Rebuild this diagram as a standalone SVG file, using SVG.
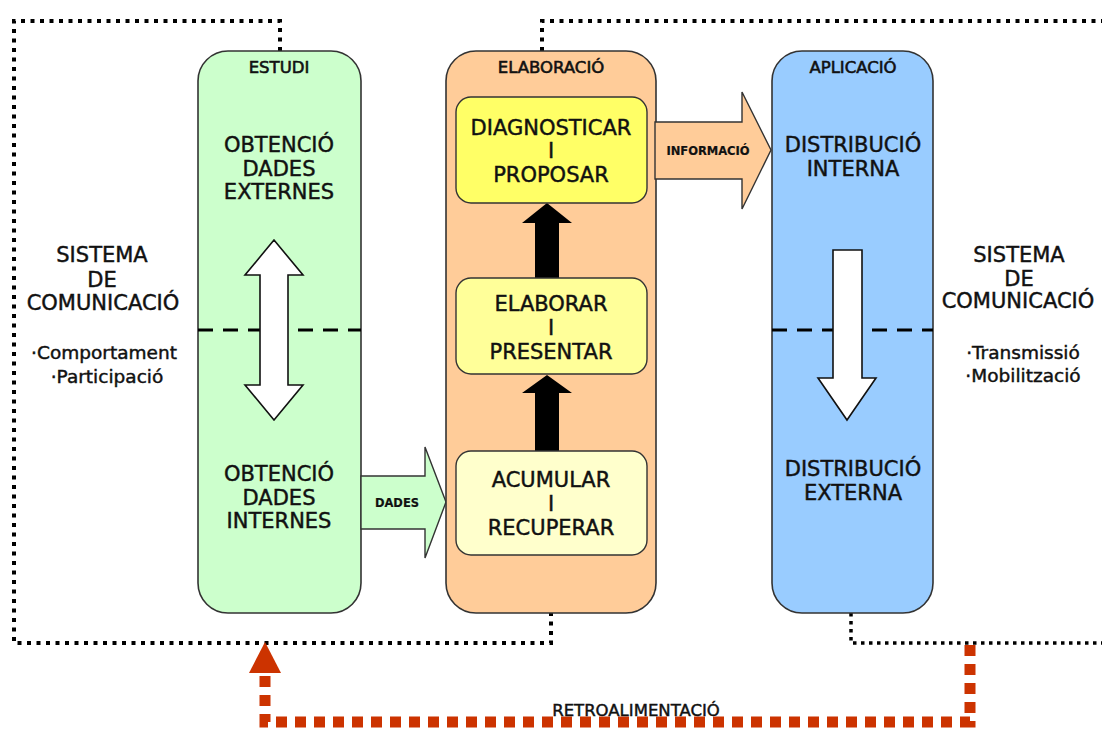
<svg xmlns="http://www.w3.org/2000/svg" width="1102" height="731" viewBox="0 0 1102 731">
  <style>
    .bg { fill: #ffffff; }
    .dots { fill: none; stroke: #000; stroke-width: 4; stroke-dasharray: 4 5.5; }
    .dots-thin { fill: none; stroke: #000; stroke-width: 3.5; stroke-dasharray: 3.5 4.5; }
    .split { fill: none; stroke: #000; stroke-width: 3; stroke-dasharray: 15 10; }
    .feedback { fill: none; stroke: #cc3300; stroke-width: 11; stroke-dasharray: 11 8; }
    .panel { stroke: #333; stroke-width: 1.6; }
    .step { stroke: #333; stroke-width: 1.4; }
    .outline { fill: #fff; stroke: #111; stroke-width: 1.6; stroke-linejoin: miter; }
    .t { font-family: "DejaVu Sans", "Liberation Sans", sans-serif; fill: #111; stroke: #111; stroke-width: 0.45; text-anchor: middle; }
    .big { font-size: 21px; }
    .head { font-size: 16.5px; stroke-width: 0.6; }
    .tag { font-size: 11.5px; font-weight: bold; stroke-width: 0.2; }
    .side { font-size: 21px; }
    .note { font-size: 18.5px; }
  </style>

  <rect class="bg" x="0" y="0" width="1102" height="731"/>

  <!-- communication-system boundary and feedback loop -->
  <g id="connectors">
    <path class="dots" d="M280 51 V21 H14 V643 H551 V613"/>
    <path class="dots" d="M542 51 V21 H1102"/>
    <path class="dots-thin" d="M851 613 V643 H1102"/>
    <path class="feedback" d="M970 645 V722 H265 V676"/>
    <polygon points="265,642 249,673 281,673" fill="#cc3300"/>
    <text class="t" x="636" y="716" font-size="16.5">RETROALIMENTACIÓ</text>
  </g>

  <!-- left side label -->
  <g id="sistema-esquerra">
    <text class="t side" x="102" y="262">SISTEMA</text>
    <text class="t side" x="102" y="287">DE</text>
    <text class="t side" x="103" y="310">COMUNICACIÓ</text>
    <text class="t note" x="104" y="359">·Comportament</text>
    <text class="t note" x="107" y="383">·Participació</text>
  </g>

  <!-- right side label -->
  <g id="sistema-dreta">
    <text class="t side" x="1019" y="262">SISTEMA</text>
    <text class="t side" x="1019" y="286">DE</text>
    <text class="t side" x="1018" y="308">COMUNICACIÓ</text>
    <text class="t note" x="1023" y="359">·Transmissió</text>
    <text class="t note" x="1023" y="382">·Mobilització</text>
  </g>

  <!-- ESTUDI -->
  <g id="estudi">
    <rect class="panel" x="198" y="51" width="163" height="562" rx="30" fill="#ccffcc"/>
    <text class="t head" x="279" y="73">ESTUDI</text>
    <path class="split" d="M198 330 H361"/>
    <polygon class="outline" points="274,240 303,275 288,275 288,385 303,385 274,420 245,385 260,385 260,275 245,275"/>
    <text class="t big" x="279" y="152">OBTENCIÓ</text>
    <text class="t big" x="279" y="176">DADES</text>
    <text class="t big" x="279" y="199">EXTERNES</text>
    <text class="t big" x="279" y="481">OBTENCIÓ</text>
    <text class="t big" x="279" y="505">DADES</text>
    <text class="t big" x="279" y="528">INTERNES</text>
  </g>

  <!-- DADES flow into ELABORACIÓ -->
  <g id="dades">
    <polygon class="step" points="361,476 425,476 425,447 446,502 425,558 425,529 361,529" fill="#ccffcc"/>
    <text class="t tag" x="397" y="507">DADES</text>
  </g>

  <!-- ELABORACIÓ -->
  <g id="elaboracio">
    <rect class="panel" x="446" y="51" width="210" height="562" rx="30" fill="#ffcc99"/>
    <text class="t head" x="551" y="73">ELABORACIÓ</text>
    <polygon points="547,203 572,223 559,223 559,279 535,279 535,223 522,223" fill="#000"/>
    <polygon points="547,375 572,393 559,393 559,452 535,452 535,393 522,393" fill="#000"/>
  </g>

  <g id="diagnosticar">
    <rect class="step" x="456" y="97" width="191" height="106" rx="15" fill="#ffff66"/>
    <text class="t big" x="551" y="135">DIAGNOSTICAR</text>
    <text class="t big" x="551" y="158">I</text>
    <text class="t big" x="551" y="182">PROPOSAR</text>
  </g>

  <g id="elaborar">
    <rect class="step" x="456" y="278" width="191" height="96" rx="15" fill="#ffff99"/>
    <text class="t big" x="551" y="311">ELABORAR</text>
    <text class="t big" x="551" y="335">I</text>
    <text class="t big" x="551" y="359">PRESENTAR</text>
  </g>

  <g id="acumular">
    <rect class="step" x="456" y="451" width="191" height="104" rx="15" fill="#ffffcc"/>
    <text class="t big" x="551" y="487">ACUMULAR</text>
    <text class="t big" x="551" y="511">I</text>
    <text class="t big" x="551" y="535">RECUPERAR</text>
  </g>

  <!-- INFORMACIÓ flow into APLICACIÓ -->
  <g id="informacio">
    <polygon class="step" points="655,122 742,122 742,92 771,150 742,209 742,179 655,179" fill="#ffcc99"/>
    <text class="t tag" x="708" y="155">INFORMACIÓ</text>
  </g>

  <!-- APLICACIÓ -->
  <g id="aplicacio">
    <rect class="panel" x="772" y="51" width="161" height="562" rx="30" fill="#99ccff"/>
    <text class="t head" x="853" y="73">APLICACIÓ</text>
    <path class="split" d="M772 330 H933"/>
    <polygon class="outline" points="833,250 862,250 862,378 876,378 847,420 818,378 833,378"/>
    <text class="t big" x="853" y="152">DISTRIBUCIÓ</text>
    <text class="t big" x="853" y="176">INTERNA</text>
    <text class="t big" x="853" y="476">DISTRIBUCIÓ</text>
    <text class="t big" x="853" y="500">EXTERNA</text>
  </g>
</svg>
